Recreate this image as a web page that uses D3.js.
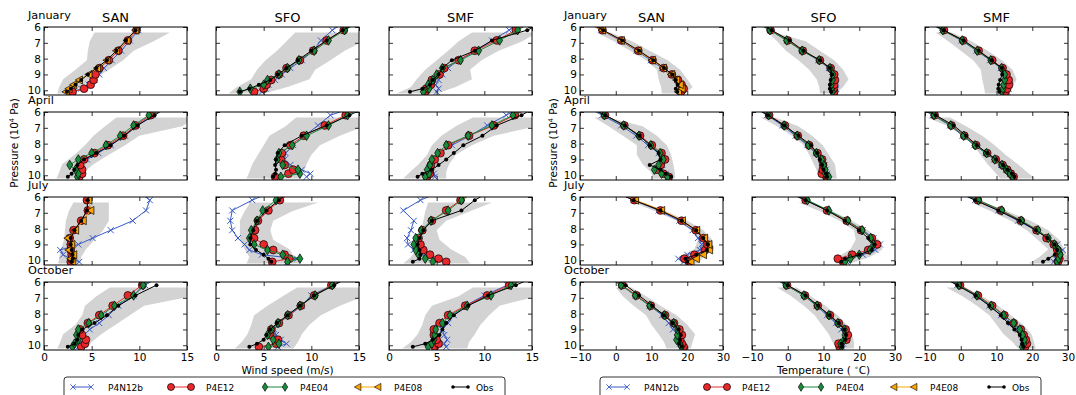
<!DOCTYPE html>
<html>
<head>
<meta charset="utf-8">
<script src="https://cdn.jsdelivr.net/npm/d3@7"></script>
<style>
  body { margin: 0; background: #fff; }
  text { font-family: 'DejaVu Sans', sans-serif; }
</style>
</head>
<body>
<svg id="chart" width="1076" height="395"></svg>
<script>
const months = ['January', 'April', 'July', 'October'];
const stations = ['SAN', 'SFO', 'SMF'];
const seriesNames = ['P4N12b', 'P4E12', 'P4E04', 'P4E08', 'Obs'];
const levels = [10.1, 9.9, 9.65, 9.35, 9.0, 8.6, 8.1, 7.5, 6.85, 6.2, 5.5];
const bandLevels = [10.2, 9.8, 9.3, 8.7, 8.1, 7.5, 6.9, 6.35];
const pressureTicks = [6, 7, 8, 9, 10];
const windTicks = [0, 5, 10, 15];
const tempTicks = [-10, 0, 10, 20, 30];

// rows: Jan SAN, Jan SFO, Jan SMF, Apr SAN, ... Oct SMF
const windP4N12b = [
  [3.0, 3.9, 4.7, 5.3, 5.8, 6.3, 7.1, 8.1, 9.0, 9.9, 10.9],
  [4.8, 5.2, 5.5, 6.2, 6.9, 7.8, 9.0, 10.2, 11.0, 12.2, 14.0],
  [5.0, 5.2, 4.9, 5.2, 5.6, 6.2, 7.3, 9.2, 10.8, 12.6, 14.5],
  [3.8, 4.0, 3.9, 3.8, 4.5, 5.7, 7.0, 8.5, 9.8, 11.4, 13.4],
  [9.5, 9.9, 9.0, 7.8, 7.2, 7.3, 8.1, 9.3, 10.7, 12.0, 15.5],
  [4.8, 4.7, 4.4, 4.6, 4.8, 5.3, 6.6, 8.5, 10.3, 12.3, 14.5],
  [3.7, 2.8, 2.0, 1.7, 3.6, 5.1, 7.0, 9.3, 10.7, 11.1, 9.6],
  [7.5, 8.5, 4.8, 3.5, 3.0, 2.3, 1.7, 1.5, 1.7, 3.8, 6.5],
  [6.0, 5.0, 3.5, 2.6, 2.0, 1.9, 2.3, 2.6, 1.5, 3.3, 6.0],
  [3.6, 4.0, 4.1, 4.2, 4.8, 5.8, 6.8, 7.8, 9.4, 10.6, 12.6],
  [6.5, 7.4, 6.8, 6.3, 6.1, 6.6, 7.7, 9.0, 10.0, 12.2, 14.8],
  [6.0, 5.8, 6.1, 5.8, 5.6, 6.2, 6.8, 8.0, 10.0, 12.4, 15.0]
];
const windP4E12 = [
  [3.0, 4.2, 4.9, 5.2, 5.4, 5.8, 6.8, 7.8, 8.8, 9.7, 10.7],
  [4.0, 5.0, 5.3, 5.8, 6.6, 7.4, 8.8, 10.2, 11.6, 13.4, 15.5],
  [3.8, 3.9, 4.4, 4.5, 5.3, 5.8, 7.3, 9.0, 11.3, 13.3, 15.5],
  [3.7, 4.0, 4.0, 3.8, 4.2, 5.3, 6.7, 8.3, 9.6, 11.2, 13.2],
  [6.2, 7.6, 8.1, 7.2, 6.8, 6.9, 7.8, 9.2, 11.4, 13.6, 16.0],
  [4.0, 4.3, 4.3, 4.4, 4.8, 5.4, 6.2, 8.4, 11.0, 13.2, 15.5],
  [2.8, 2.9, 2.9, 2.8, 2.8, 2.7, 3.1, 3.9, 4.6, 4.5, 4.5],
  [5.9, 7.7, 7.2, 6.0, 5.0, 4.0, 4.1, 4.4, 5.5, 6.7, 8.5],
  [6.0, 5.2, 4.3, 3.6, 3.3, 3.1, 3.5, 4.5, 6.0, 7.5, 9.5],
  [3.9, 4.3, 4.4, 4.0, 3.8, 4.6, 5.8, 7.2, 8.8, 10.3, 12.5],
  [4.5, 6.3, 6.5, 5.7, 5.8, 6.6, 7.6, 8.9, 10.3, 12.1, 14.5],
  [4.8, 5.2, 5.0, 4.7, 4.7, 5.3, 6.2, 8.0, 10.3, 12.6, 15.5]
];
const windP4E04 = [
  null,
  [2.5, 3.6, 5.0, 5.4, 6.6, 7.5, 8.7, 10.3, 11.8, 13.5, 15.5],
  [3.6, 4.2, 4.1, 4.6, 5.0, 5.6, 7.5, 9.4, 11.6, 13.5, 15.5],
  [3.5, 3.6, 3.3, 2.7, 3.6, 5.0, 6.5, 8.0, 9.4, 11.0, 13.0],
  [6.8, 8.8, 8.6, 7.0, 6.4, 6.6, 8.0, 9.5, 11.8, 13.8, 16.0],
  [3.8, 4.2, 4.0, 4.3, 4.5, 5.1, 6.0, 8.3, 10.8, 13.0, 15.5],
  null,
  [7.5, 8.8, 7.0, 5.4, 4.0, 3.5, 3.7, 4.3, 4.9, 6.3, 8.0],
  [4.6, 3.8, 3.1, 2.8, 2.6, 2.8, 3.4, 4.4, 6.2, 7.6, 9.5],
  [3.0, 3.2, 3.6, 3.4, 3.6, 4.7, 6.0, 7.4, 9.4, 10.4, 12.3],
  [5.5, 6.6, 6.0, 5.4, 5.8, 6.5, 7.5, 8.8, 10.4, 12.2, 14.6],
  [4.1, 4.5, 4.7, 4.8, 4.9, 5.6, 6.4, 8.2, 10.7, 12.8, 15.5]
];
const windP4E08 = [
  [2.3, 2.6, 3.1, 3.7, 4.7, 5.6, 6.6, 7.6, 8.7, 9.6, 10.6],
  null, null, null, null, null,
  [3.0, 2.8, 3.1, 2.6, 2.9, 2.5, 3.3, 4.1, 4.9, 4.7, 4.7],
  null, null, null, null, null
];
const windObs = [
  [2.4, 2.8, 3.3, 3.9, 4.6, 5.5, 6.6, 7.6, 8.6, 9.6, 10.6],
  [2.5, 3.5, 4.5, 5.7, 6.5, 7.4, 8.6, 10.0, 11.6, 13.3, 15.5],
  [2.2, 3.5, 4.3, 4.6, 5.2, 5.6, 6.6, 9.0, 10.8, 14.5, 17.0],
  [2.5, 2.9, 3.2, 3.5, 4.2, 5.5, 7.0, 8.4, 9.8, 11.6, 13.5],
  [6.0, 6.2, 6.3, 6.2, 6.3, 6.5, 7.2, 9.0, 11.6, 14.0, 16.5],
  [3.0, 3.5, 4.5, 5.2, 6.0, 6.8, 7.8, 9.8, 11.3, 13.9, 16.0],
  [2.9, 3.0, 3.0, 2.9, 2.8, 2.8, 3.2, 3.9, 4.5, 4.6, 4.8],
  [5.8, 5.5, 5.0, 4.2, 3.6, 3.6, 3.9, 4.3, 5.3, 6.6, 8.0],
  [2.5, 3.2, 3.3, 3.2, 3.0, 3.2, 3.6, 4.5, 7.6, 9.0, 11.0],
  [2.5, 3.2, 3.5, 3.6, 4.0, 5.3, 6.6, 7.8, 9.6, 11.8, null],
  [3.5, 4.3, 5.0, 5.3, 5.7, 6.4, 7.5, 8.8, 10.3, 12.4, 14.5],
  [2.5, 3.8, 4.6, 5.3, 5.6, 6.0, 6.8, 8.3, 10.4, 13.3, 16.0]
];
const windBandLo = [
  [1.4, 1.6, 2.0, 3.3, 4.5, 4.6, 4.8, 5.3],
  [1.3, 2.2, 3.7, 4.3, 5.2, 6.4, 7.4, 8.3],
  [0.8, 2.3, 2.9, 3.8, 5.0, 6.2, 7.3, 8.7],
  [1.3, 1.6, 1.9, 3.2, 4.3, 5.2, 6.4, 7.6],
  [3.2, 3.5, 3.8, 4.4, 5.0, 5.6, 7.3, 8.4],
  [1.5, 2.2, 3.1, 4.0, 4.5, 5.5, 7.0, 8.8],
  [1.5, 1.6, 1.8, 2.1, 2.2, 2.3, 2.6, 3.1],
  [3.2, 3.5, 3.0, 2.5, 2.5, 2.5, 3.0, 3.6],
  [1.5, 2.3, 2.9, 3.3, 3.4, 3.6, 3.8, 4.1],
  [1.4, 1.7, 2.0, 3.3, 4.0, 4.3, 5.5, 6.9],
  [2.0, 2.7, 3.3, 3.7, 4.0, 5.4, 7.0, 8.5],
  [1.4, 2.3, 3.0, 3.5, 3.8, 4.5, 7.3, 8.8]
];
const windBandHi = [
  [2.8, 3.8, 5.2, 6.8, 8.3, 9.4, 11.5, 13.2],
  [5.0, 7.5, 9.8, 10.4, 12.0, 13.5, 15.5, 15.5],
  [5.0, 7.0, 8.7, 8.5, 9.7, 11.5, 14.0, 15.5],
  [3.8, 4.2, 5.2, 6.8, 8.5, 10.0, 14.5, 16.0],
  [8.8, 9.2, 9.5, 10.0, 10.9, 13.0, 15.5, 15.5],
  [6.0, 6.0, 6.3, 7.0, 8.7, 11.0, 15.5, 15.5],
  [3.8, 3.9, 4.4, 5.3, 6.2, 6.8, 6.8, 6.8],
  [8.8, 8.2, 7.7, 6.0, 5.7, 6.0, 8.0, 10.7],
  [8.5, 8.0, 6.5, 5.3, 5.0, 6.0, 8.5, 10.8],
  [4.5, 5.0, 6.0, 7.5, 9.0, 10.5, 15.5, 15.5],
  [8.1, 8.6, 9.0, 9.8, 11.0, 13.0, 15.5, 15.5],
  [8.2, 8.4, 9.0, 9.6, 10.5, 11.6, 15.5, 15.5]
];

const tempP4N12b = [
  [18.0, 18.2, 17.8, 17.2, 15.5, 13.0, 9.8, 5.8, 1.2, -4.0, -10.0],
  [13.2, 13.5, 13.4, 13.0, 12.5, 11.5, 8.5, 4.0, -0.2, -5.0, -10.5],
  [13.0, 13.4, 13.6, 13.2, 12.6, 11.2, 8.2, 4.4, 0.2, -5.2, -11.0],
  [15.0, 14.0, 12.5, 13.0, 13.5, 12.0, 9.0, 5.7, 1.5, -3.8, -9.8],
  [11.3, 11.0, 10.6, 10.3, 9.6, 7.8, 5.5, 2.2, -1.5, -5.8, -11.0],
  [14.6, 13.9, 12.7, 11.3, 9.3, 7.0, 3.8, 0.5, -3.0, -7.8, -13.5],
  [19.0, 17.5, 20.0, 23.5, 24.0, 23.0, 21.5, 17.8, 12.0, 5.0, -2.0],
  [16.5, 17.0, 21.0, 24.5, 25.8, 24.0, 21.0, 16.5, 11.0, 4.8, -2.0],
  [26.0, 26.5, 27.5, 28.5, 27.0, 24.5, 21.0, 16.0, 10.5, 4.0, -2.8],
  [18.5, 18.0, 17.5, 17.5, 16.0, 14.8, 13.0, 9.5, 5.5, 1.5, -3.5],
  [15.2, 15.5, 16.0, 16.2, 15.0, 13.5, 11.0, 8.0, 4.5, -0.5, -6.0],
  [17.5, 17.8, 17.5, 17.0, 16.0, 14.0, 11.3, 8.0, 4.0, -1.0, -6.5]
];
const tempP4E12 = [
  [18.3, 19.0, 18.4, 17.4, 15.7, 13.4, 10.3, 6.3, 1.6, -3.7, -9.7],
  [13.0, 12.8, 13.0, 13.2, 13.0, 12.0, 9.0, 4.2, 0.0, -4.8, -10.2],
  [12.5, 13.0, 13.5, 13.4, 12.8, 11.7, 8.8, 5.0, 0.7, -4.7, -10.5],
  [14.8, 13.3, 11.5, 12.6, 13.8, 12.8, 10.1, 6.8, 2.4, -3.0, -9.0],
  [10.8, 9.5, 9.8, 9.9, 9.6, 8.3, 6.0, 2.8, -0.8, -5.2, -10.8],
  [14.8, 14.0, 13.0, 11.7, 9.8, 7.4, 4.3, 1.0, -2.6, -7.3, -13.0],
  [20.5, 19.2, 22.0, 25.0, 25.6, 24.5, 22.4, 18.4, 12.5, 5.2, -1.8],
  [15.5, 14.0, 18.0, 22.5, 25.0, 23.5, 20.5, 16.5, 11.0, 5.0, -1.5],
  [27.2, 27.6, 27.5, 27.0, 26.0, 24.0, 21.2, 16.8, 11.2, 4.8, -2.2],
  [19.0, 18.5, 18.0, 18.5, 17.8, 16.3, 13.8, 9.8, 5.8, 1.8, -3.2],
  [14.5, 14.2, 16.4, 16.8, 16.2, 14.3, 11.8, 8.4, 4.8, -0.2, -5.8],
  [18.0, 18.5, 18.2, 17.6, 16.8, 14.8, 12.2, 8.8, 4.8, -0.2, -5.8]
];
const tempP4E04 = [
  null,
  [12.5, 12.2, 12.2, 12.5, 12.6, 11.8, 8.8, 4.0, -0.3, -5.0, -10.5],
  [11.5, 11.8, 12.0, 12.3, 12.3, 11.4, 8.4, 4.6, 0.4, -5.0, -10.8],
  [14.5, 12.8, 10.8, 12.0, 13.3, 12.4, 9.8, 6.5, 2.2, -3.2, -9.2],
  [11.5, 10.5, 10.5, 10.0, 9.5, 8.0, 5.8, 2.6, -1.0, -5.4, -11.0],
  [14.5, 13.8, 12.8, 11.5, 9.5, 7.2, 4.0, 0.8, -2.8, -7.5, -13.0],
  null,
  [16.0, 17.5, 20.0, 23.0, 24.0, 23.2, 20.8, 16.8, 11.5, 5.5, -1.0],
  [27.0, 27.4, 27.8, 27.3, 26.2, 24.5, 21.6, 17.0, 11.5, 5.0, -2.0],
  [18.4, 17.9, 17.0, 17.2, 17.3, 16.2, 13.6, 9.5, 5.5, 1.5, -3.5],
  [15.0, 14.8, 15.8, 16.0, 15.8, 14.0, 11.5, 8.2, 4.5, -0.5, -6.0],
  [17.2, 17.7, 17.8, 17.3, 16.5, 14.8, 12.0, 8.5, 4.5, -0.5, -6.0]
];
const tempP4E08 = [
  [17.5, 18.5, 18.0, 17.0, 15.6, 13.3, 10.2, 6.2, 1.5, -3.8, -9.8],
  null, null, null, null, null,
  [21.0, 22.5, 24.5, 26.2, 26.0, 24.8, 22.6, 18.6, 12.8, 5.5, -1.5],
  null, null, null, null, null
];
const tempObs = [
  [17.2, 16.8, 17.3, 16.8, 15.8, 13.5, 10.5, 6.5, 1.8, -3.5, -9.5],
  [12.2, 11.8, 11.8, 12.0, 12.4, 11.8, 9.0, 4.4, 0.5, -4.5, -10.0],
  [10.8, 10.5, 10.6, 11.0, 11.6, 11.5, 8.6, 5.0, 0.8, -4.8, -10.5],
  [15.5, 14.0, 12.5, 9.5, 12.5, 12.0, 9.6, 6.6, 2.5, -3.0, -9.0],
  [11.0, 10.7, 10.0, 9.6, 9.0, 8.2, 6.5, 3.0, -1.0, -5.5, -11.0],
  [15.0, 14.3, 13.0, 11.8, 9.9, 7.4, 4.5, 1.5, -2.0, -7.0, -13.0],
  [20.0, 19.5, 22.5, 25.5, 25.8, 24.5, 22.5, 18.5, 12.5, 5.0, -2.0],
  [15.0, 16.0, 20.0, 23.5, 24.2, 22.5, 20.0, 16.0, 11.0, 5.0, -1.5],
  [23.0, 24.5, 26.3, 27.0, 26.2, 24.3, 21.0, 16.5, 10.5, 4.0, -2.5],
  [18.5, 17.8, 18.0, 18.2, 17.5, 16.0, 13.5, 10.2, 6.5, 2.8, -2.5],
  [15.2, 15.0, 16.0, 16.3, 15.8, 14.2, 11.6, 8.5, 5.0, 0.0, -5.5],
  [17.5, 17.2, 17.0, 16.5, 15.0, 13.2, 11.2, 8.0, 4.2, -1.0, -6.5]
];
const tempBandLo = [
  [12.9, 12.7, 12.0, 11.5, 8.5, 4.0, -0.5, -5.5],
  [9.0, 8.8, 8.1, 6.0, 3.0, -0.5, -3.0, -5.5],
  [6.8, 6.5, 6.0, 5.6, 3.5, 0.0, -3.5, -7.0],
  [10.5, 9.8, 7.5, 5.9, 5.9, 2.0, -2.0, -6.0],
  [9.0, 8.3, 7.3, 6.0, 4.5, 1.2, -3.0, -7.5],
  [11.0, 9.5, 7.5, 5.5, 3.5, 0.8, -3.5, -9.5],
  [18.5, 17.5, 22.0, 23.0, 21.0, 17.0, 11.0, 5.0],
  [13.5, 14.0, 17.5, 19.0, 18.5, 14.5, 9.0, 3.0],
  [19.0, 22.0, 24.5, 21.5, 18.5, 14.0, 8.5, 3.0],
  [14.2, 13.5, 12.0, 10.0, 8.5, 5.0, 2.0, 0.0],
  [13.7, 12.5, 11.5, 9.5, 7.5, 4.5, 1.0, -3.0],
  [16.0, 14.5, 12.0, 10.0, 8.0, 4.5, 0.5, -4.0]
];
const tempBandHi = [
  [19.5, 21.5, 20.0, 18.0, 14.5, 9.5, 4.5, -1.5],
  [13.5, 15.5, 17.0, 15.5, 13.0, 9.0, 5.0, -3.5],
  [13.3, 14.5, 15.6, 14.5, 11.5, 7.5, 3.0, -2.5],
  [16.6, 16.5, 16.1, 15.5, 14.3, 11.5, 7.5, -2.0],
  [13.7, 13.5, 13.2, 11.5, 9.8, 6.8, 3.0, -3.5],
  [20.8, 18.5, 16.0, 12.5, 9.5, 6.0, 1.5, -3.0],
  [23.0, 24.5, 27.5, 27.0, 24.5, 20.0, 14.0, 8.0],
  [17.5, 23.0, 26.5, 25.5, 22.5, 18.0, 12.5, 6.0],
  [29.5, 29.8, 29.0, 27.5, 24.5, 19.5, 13.0, 6.5],
  [21.0, 21.5, 22.2, 20.0, 17.0, 12.5, 8.5, 4.5],
  [18.5, 18.5, 18.0, 16.5, 14.0, 10.5, 6.5, 2.5],
  [21.0, 20.5, 19.8, 17.5, 14.0, 10.5, 6.0, 1.0]
];

const styles = {
  P4N12b: { color: '#3a5bc7', marker: 'x' },
  P4E12: { color: '#e8282b', marker: 'circle' },
  P4E04: { color: '#1a8a3c', marker: 'diamond' },
  P4E08: { color: '#ffa500', marker: 'triLeft' },
  Obs: { color: '#000000', marker: 'dot' }
};
const markerPaths = {
  x: 'M-3,-3L3,3M-3,3L3,-3',
  diamond: 'M0,-4.8L3,0L0,4.8L-3,0Z',
  triLeft: 'M-4,0L3.2,-4L3.2,4Z'
};

const svg = d3.select('#chart');
const panelW = 143, panelH = 68;
const rowTop = [27, 112, 197, 282];
const minus = d => (d < 0 ? '\u2212' + Math.abs(d) : String(d));

const groups = [
  { key: 'wind', left: [44, 216, 389], domain: [0, 15], ticks: windTicks,
    series: [windP4N12b, windP4E12, windP4E04, windP4E08, windObs],
    lo: windBandLo, hi: windBandHi, label: 'Wind speed (m/s)', legendX: 64, ylabelX: 18 },
  { key: 'temp', left: [580, 752, 925], domain: [-10, 30], ticks: tempTicks,
    series: [tempP4N12b, tempP4E12, tempP4E04, tempP4E08, tempObs],
    lo: tempBandLo, hi: tempBandHi, label: 'Temperature', legendX: 600, ylabelX: 557 }
];

const y = d3.scaleLinear().domain([6, 10.3]).range([0, panelH]);

function drawMarker(sel, kind, color, size) {
  const k = size || 1;
  if (kind === 'x') {
    sel.append('path').attr('d', markerPaths.x).attr('transform', `scale(${k})`)
      .attr('fill', 'none').attr('stroke', color).attr('stroke-width', 1);
  } else if (kind === 'circle') {
    sel.append('circle').attr('r', 3.9 * k).attr('fill', color)
      .attr('stroke', '#000').attr('stroke-width', 0.7);
  } else if (kind === 'dot') {
    sel.append('circle').attr('r', 2 * k).attr('fill', '#000');
  } else {
    sel.append('path').attr('d', markerPaths[kind]).attr('transform', `scale(${k})`)
      .attr('fill', color).attr('stroke', '#000').attr('stroke-width', 0.7);
  }
}

function styleAxis(g) {
  g.select('.domain').remove();
  g.selectAll('.tick line').attr('stroke', '#000').attr('stroke-width', 0.8);
  g.selectAll('.tick text').attr('font-size', 10.5).attr('fill', '#000')
    .attr('font-family', "'DejaVu Sans', sans-serif");
}

groups.forEach((grp, gi) => {
  months.forEach((month, r) => {
    stations.forEach((station, c) => {
      const idx = r * 3 + c;
      const x = d3.scaleLinear().domain(grp.domain).range([0, panelW]);
      const g = svg.append('g').attr('transform', `translate(${grp.left[c]},${rowTop[r]})`);
      const clipId = `clip-${grp.key}-${idx}`;
      g.append('clipPath').attr('id', clipId)
        .append('rect').attr('width', panelW).attr('height', panelH);
      const plot = g.append('g').attr('clip-path', `url(#${clipId})`);

      const band = bandLevels.map((p, i) => ({ p, lo: grp.lo[idx][i], hi: grp.hi[idx][i] }));
      plot.append('path').datum(band)
        .attr('fill', '#d3d3d3')
        .attr('d', d3.area().y(d => y(d.p)).x0(d => x(d.lo)).x1(d => x(d.hi)));

      seriesNames.forEach((name, si) => {
        const vals = grp.series[si][idx];
        if (!vals) return;
        const st = styles[name];
        const pts = levels.map((p, i) => ({ p, v: vals[i] })).filter(d => d.v != null);
        plot.append('path').datum(pts)
          .attr('fill', 'none').attr('stroke', st.color).attr('stroke-width', 1)
          .attr('d', d3.line().x(d => x(d.v)).y(d => y(d.p)));
        plot.append('g').selectAll('g').data(pts).join('g')
          .attr('transform', d => `translate(${x(d.v)},${y(d.p)})`)
          .each(function () { drawMarker(d3.select(this), st.marker, st.color); });
      });

      g.append('g').attr('transform', `translate(0,${panelH})`)
        .call(d3.axisBottom(x).tickValues(grp.ticks).tickSize(-4).tickPadding(4)
          .tickFormat(r === 3 ? minus : ''))
        .call(styleAxis);
      g.append('g')
        .call(d3.axisTop(x).tickValues(grp.ticks).tickSize(-4).tickFormat(''))
        .call(styleAxis);
      g.append('g')
        .call(d3.axisLeft(y).tickValues(pressureTicks).tickSize(-4).tickPadding(3)
          .tickFormat(c === 0 ? d3.format('d') : ''))
        .call(styleAxis);
      g.append('g').attr('transform', `translate(${panelW},0)`)
        .call(d3.axisRight(y).tickValues(pressureTicks).tickSize(-4).tickFormat(''))
        .call(styleAxis);

      g.append('rect').attr('width', panelW).attr('height', panelH)
        .attr('fill', 'none').attr('stroke', '#000').attr('stroke-width', 1);

      if (r === 0) {
        svg.append('text').attr('x', grp.left[c] + panelW / 2).attr('y', 21.5)
          .attr('text-anchor', 'middle').attr('font-size', 13).text(station);
      }
    });

    svg.append('text').attr('x', grp.left[0] - 16).attr('y', rowTop[r] - 8)
      .attr('font-size', 11.3).text(month);
  });

  // y label
  const yl = svg.append('text')
    .attr('transform', `translate(${grp.ylabelX},${rowTop[1] + 31}) rotate(-90)`)
    .attr('text-anchor', 'middle').attr('font-size', 10.5);
  yl.append('tspan').text('Pressure (10');
  yl.append('tspan').attr('font-size', 6.5).attr('dy', -4).text('4');
  yl.append('tspan').attr('dy', 4).text(' Pa)');

  // x label
  const xl = svg.append('text')
    .attr('x', grp.left[1] + panelW / 2).attr('y', 374)
    .attr('text-anchor', 'middle').attr('font-size', 10.5);
  if (grp.key === 'wind') {
    xl.text(grp.label);
  } else {
    xl.append('tspan').text('Temperature ( ');
    xl.append('tspan').attr('font-size', 7).attr('dy', -4).text('\u2218');
    xl.append('tspan').attr('dy', 4).text('C)');
  }

  // legend
  const lg = svg.append('g').attr('transform', `translate(${grp.legendX},377)`);
  lg.append('rect').attr('x', 0).attr('y', 0).attr('width', 441).attr('height', 30)
    .attr('rx', 3).attr('fill', '#fff').attr('stroke', '#000').attr('stroke-width', 0.8);
  const itemX = [9, 107, 201, 294, 389];
  const itemLen = [18, 20, 20, 20, 15];
  const textX = [44, 142, 236, 330, 412];
  seriesNames.forEach((name, si) => {
    const st = styles[name];
    const it = lg.append('g');
    const x0 = itemX[si], x1 = itemX[si] + itemLen[si];
    it.append('line').attr('x1', x0).attr('x2', x1).attr('y1', 10).attr('y2', 10)
      .attr('stroke', st.color).attr('stroke-width', 1);
    [x0, x1].forEach(px => {
      const m = it.append('g').attr('transform', `translate(${px},10)`);
      drawMarker(m, st.marker, st.color, 0.9);
    });
    it.append('text').attr('x', textX[si]).attr('y', 14).attr('font-size', 9).text(name);
  });
});
</script>
</body>
</html>
